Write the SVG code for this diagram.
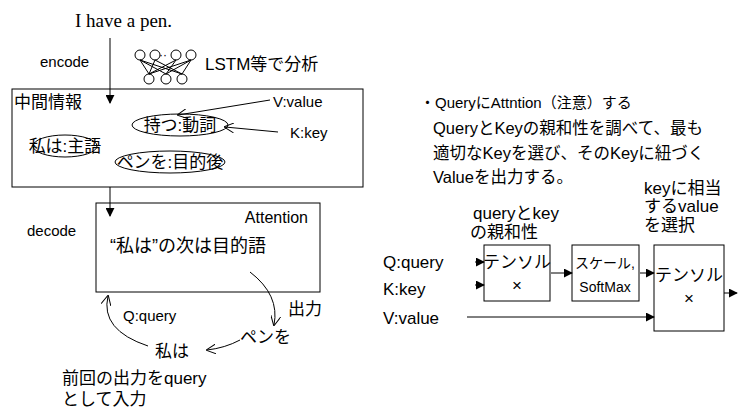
<svg xmlns="http://www.w3.org/2000/svg" width="747" height="418" viewBox="0 0 747 418">
<defs>
<style>
text{font-family:"Liberation Sans","Noto Sans CJK JP",sans-serif;font-size:17px;fill:#000}
.s{font-size:15px}
.p{font-size:16.5px}
.b{fill:#fff;stroke:#000;stroke-width:1}
.l{fill:none;stroke:#000;stroke-width:1}
.c{text-anchor:middle}
</style>
<marker id="a" viewBox="0 0 10 10" refX="9" refY="5" markerWidth="9" markerHeight="9" orient="auto" markerUnits="userSpaceOnUse"><path d="M0,0L10,5L0,10z" fill="#000"/></marker>
<marker id="o" viewBox="0 0 10 10" refX="9" refY="5" markerWidth="10" markerHeight="10" orient="auto" markerUnits="userSpaceOnUse"><path d="M0,0L10,5L0,10" fill="none" stroke="#000"/></marker>
</defs>
<rect width="747" height="418" fill="#fff"/>
<text x="75" y="27" style="font-family:'Liberation Serif','Noto Sans CJK JP',serif;font-size:19px">I have a pen.</text>
<text x="40" y="67" class="s">encode</text>
<text x="205" y="70">LSTM等で分析</text>
<g id="net" class="l">
<circle cx="140" cy="55" r="5"/><circle cx="155" cy="55" r="5"/><circle cx="176" cy="55" r="5"/><circle cx="191" cy="55" r="5"/>
<circle cx="149" cy="79" r="5"/><circle cx="166" cy="79" r="5"/><circle cx="182" cy="79" r="5"/>
<path d="M140,60L149,74M140,60L166,74M140,60L182,74M155,60L149,74M155,60L182,74M176,60L149,74M176,60L166,74M191,60L166,74M191,60L149,74M191,60L182,74"/>
<text x="159" y="59" style="font-size:12px;stroke:none">··</text>
</g>
<g id="mid">
<rect x="12" y="89" width="351" height="98" class="b"/>
<text x="14" y="108">中間情報</text>
<ellipse cx="180" cy="125" rx="48" ry="11" class="l"/><text x="180" y="131" class="c">持つ:動詞</text>
<ellipse cx="65" cy="146" rx="32" ry="11" class="l"/><text x="65" y="152" class="c">私は:主語</text>
<ellipse cx="170" cy="162" rx="55" ry="11" class="l"/><text x="170" y="168" class="c">ペンを:目的後</text>
<text x="273" y="107" class="s">V:value</text>
<text x="290" y="138" class="s">K:key</text>
</g>
<g id="dec">
<rect x="96" y="203" width="224" height="89" class="b"/>
<text x="308" y="223" style="text-anchor:end;font-size:16px">Attention</text>
<text x="110" y="252" style="font-size:18px">“私は”の次は目的語</text>
<text x="27" y="236" class="s">decode</text>
<text x="288" y="315">出力</text>
<text x="240" y="343">ペンを</text>
<text x="155" y="357">私は</text>
<text x="123" y="321" class="s">Q:query</text>
<text x="62" y="384">前回の出力をquery</text>
<text x="62" y="405">として入力</text>
</g>
<g id="right">
<text x="420" y="108" class="s">・QueryにAttntion（注意）する</text>
<text x="433" y="134" class="p">QueryとKeyの親和性を調べて、最も</text>
<text x="433" y="159" class="p">適切なKeyを選び、そのKeyに紐づく</text>
<text x="433" y="183" class="p">Valueを出力する。</text>
<text x="473" y="219">queryとkey</text>
<text x="470" y="238">の親和性</text>
<text x="644" y="194">keyに相当</text>
<text x="644" y="212">するvalue</text>
<text x="644" y="231">を選択</text>
<text x="383" y="268">Q:query</text>
<text x="383" y="295">K:key</text>
<text x="383" y="324">V:value</text>
</g>
<g id="t1"><rect x="484" y="245" width="66" height="56" class="b"/><text x="517" y="268" class="c">テンソル</text><text x="517" y="291" class="c">×</text></g>
<g id="t2"><rect x="572" y="245" width="67" height="56" class="b"/><text x="605" y="268" class="c" style="font-size:14px">スケール,</text><text x="605" y="292" class="c" style="font-size:14px">SoftMax</text></g>
<g id="t3"><rect x="654" y="245" width="70" height="86" class="b"/><text x="689" y="281" class="c">テンソル</text><text x="689" y="304" class="c">×</text></g>
<g id="connectors" class="l">
<path d="M110,38V103" marker-end="url(#a)"/>
<path d="M110,187V216" marker-end="url(#a)"/>
<path d="M270,100L178,115" marker-end="url(#o)"/>
<path d="M278,132L225,127" marker-end="url(#o)"/>
<path d="M250,272Q280,295 274,325" marker-end="url(#o)"/>
<path d="M240,340Q225,348 207,350" marker-end="url(#o)"/>
<path d="M148,346Q100,330 108,296" marker-end="url(#o)"/>
<path d="M475,262H484" marker-end="url(#a)"/>
<path d="M475,285H484" marker-end="url(#a)"/>
<path d="M551,273H572" marker-end="url(#a)"/>
<path d="M640,273H654" marker-end="url(#a)"/>
<path d="M467,317H654" marker-end="url(#a)"/>
<path d="M724,293H737" marker-end="url(#a)"/>
</g>
</svg>
